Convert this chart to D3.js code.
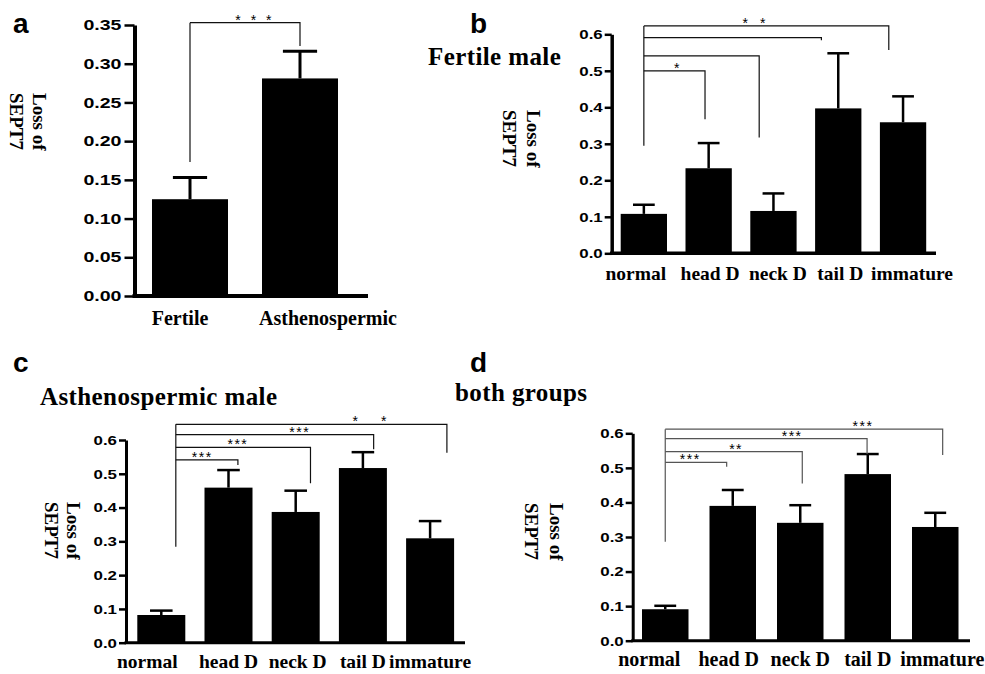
<!DOCTYPE html>
<html>
<head>
<meta charset="utf-8">
<script src="https://cdn.jsdelivr.net/npm/d3@7"></script>
<style>
  body { margin: 0; background: #fff; }
  svg { display: block; }
  .serif { font-family: "Liberation Serif", "Times New Roman", serif; font-weight: bold; }
  .sans { font-family: "Liberation Sans", Arial, sans-serif; font-weight: bold; }
  .stars { font-family: "Liberation Sans", Arial, sans-serif; white-space: pre; }
</style>
</head>
<body>
<div id="chart"></div>
<script>
// a: fertile vs asthenospermic
const catsA = ["Fertile", "Asthenospermic"];
const meansA = [0.125, 0.281];
const semsA = [0.028, 0.035];
const ticksA = [0, 0.05, 0.10, 0.15, 0.20, 0.25, 0.30, 0.35];

// b, c, d share the defect categories
const defects = ["normal", "head D", "neck D", "tail D", "immature"];
const ticksBCD = [0, 0.1, 0.2, 0.3, 0.4, 0.5, 0.6];

const meansB = [0.108, 0.233, 0.116, 0.397, 0.359];
const semsB = [0.025, 0.069, 0.048, 0.151, 0.071];

const meansC = [0.082, 0.459, 0.387, 0.517, 0.309];
const semsC = [0.013, 0.052, 0.063, 0.047, 0.051];

const meansD = [0.091, 0.390, 0.341, 0.482, 0.329];
const semsD = [0.010, 0.046, 0.051, 0.058, 0.041];

// significance brackets: x in bar-index units, y in data units
const bracketsA = [{to: 1, y: 0.353, drop: 0.323, label: "* * *", lx: 0.59}];
const bracketsB = [
  {to: 3.78, y: 0.623, drop: 0.557, label: "* *", lx: 1.73},
  {to: 2.74, y: 0.591, drop: 0.584, label: "", lx: 0},
  {to: 1.78, y: 0.541, drop: 0.317, label: "", lx: 0},
  {to: 0.944, y: 0.500, drop: 0.367, label: "*", lx: 0.54}
];
const bracketsC = [
  {to: 4.25, y: 0.6465, drop: 0.5625, label: "*    *", lx: 3.11},
  {to: 3.16, y: 0.616, drop: 0.5725, label: "***", lx: 2.06},
  {to: 2.22, y: 0.578, drop: 0.472, label: "***", lx: 1.14},
  {to: 1.14, y: 0.541, drop: 0.526, label: "***", lx: 0.61}
];
const bracketsD = [
  {to: 4.11, y: 0.612, drop: 0.537, label: "***", lx: 2.93},
  {to: 2.99, y: 0.5845, drop: 0.540, label: "***", lx: 1.88},
  {to: 2.03, y: 0.547, drop: 0.455, label: "**", lx: 1.05},
  {to: 0.91, y: 0.516, drop: 0.503, label: "***", lx: 0.37}
];

const svg = d3.select("#chart").append("svg")
    .attr("width", 985)
    .attr("height", 674)
    .attr("viewBox", [0, 0, 985, 674]);

function barPanel({
  letter, letterX, letterY,
  title, titleX, titleY,
  cats, means, sems, ticks, yMax, fmt,
  brackets, leftX = 0, leftBottom,
  axisX, yTop, yBottom, axisEnd,
  barLeft, step, barWidth,
  tickLen = 7, tickGap = 2, tickFont = 13.5, tickScale = 1.25,
  labelBase, labelFont = 19, labelDx = [],
  ylabX1, ylabX2, ylabY,
  axisW = 3.5, errW = 2.5, capFrac = 0.47, starFont = 14, starSpacing = 1.5,
  bracketColor = "#111"
}) {
  const g = svg.append("g");

  const y = d3.scaleLinear().domain([0, yMax]).range([yBottom, yTop]);
  const x = d3.scaleBand()
      .domain(cats)
      .range([barLeft, barLeft + (cats.length - 1) * step + barWidth])
      .paddingInner((step - barWidth) / step)
      .paddingOuter(0);
  const bw = x.bandwidth();
  const xi = d3.scaleLinear().domain([0, 1]).range([x(cats[0]) + bw / 2, x(cats[1]) + bw / 2]);

  // panel letter + title
  g.append("text").attr("class", "sans")
      .attr("x", letterX).attr("y", letterY)
      .attr("font-size", 28)
      .text(letter);
  if (title) {
    g.append("text").attr("class", "serif")
        .attr("x", titleX).attr("y", titleY)
        .attr("font-size", 25)
        .attr("letter-spacing", 0.4)
        .text(title);
  }

  // y label, rotated clockwise
  [["Loss of", ylabX1], ["SEPT7", ylabX2]].forEach(([t, lx]) => {
    g.append("text").attr("class", "serif")
        .attr("transform", `translate(${lx},${ylabY}) rotate(90)`)
        .attr("font-size", 19)
        .text(t);
  });

  // error bars
  const err = g.append("g")
      .attr("stroke", "#000")
      .attr("stroke-width", errW);
  err.selectAll("line.v")
    .data(cats)
    .join("line")
      .attr("class", "v")
      .attr("x1", c => x(c) + bw / 2)
      .attr("x2", c => x(c) + bw / 2)
      .attr("y1", (c, i) => y(means[i]))
      .attr("y2", (c, i) => y(means[i] + sems[i]));
  err.selectAll("line.cap")
    .data(cats)
    .join("line")
      .attr("class", "cap")
      .attr("x1", c => x(c) + bw / 2 - bw * capFrac / 2)
      .attr("x2", c => x(c) + bw / 2 + bw * capFrac / 2)
      .attr("y1", (c, i) => y(means[i] + sems[i]))
      .attr("y2", (c, i) => y(means[i] + sems[i]));

  // bars
  g.append("g")
      .attr("fill", "#000")
    .selectAll("rect")
    .data(cats)
    .join("rect")
      .attr("x", c => x(c))
      .attr("y", (c, i) => y(means[i]))
      .attr("width", bw)
      .attr("height", (c, i) => y(0) - y(means[i]));

  // y axis
  const yAxis = g.append("g")
      .attr("transform", `translate(${axisX},0)`)
      .call(d3.axisLeft(y)
        .tickValues(ticks)
        .tickSize(tickLen)
        .tickSizeOuter(0)
        .tickPadding(tickGap)
        .tickFormat(d3.format(fmt)));
  yAxis.select(".domain").attr("stroke", "#000").attr("stroke-width", axisW);
  yAxis.selectAll(".tick line").attr("stroke", "#000").attr("stroke-width", 2.5);
  yAxis.selectAll(".tick text")
      .attr("class", "sans")
      .attr("font-size", tickFont)
      .attr("fill", "#000")
      .attr("transform", `scale(${tickScale},1)`)
      .attr("x", -(tickLen + tickGap) / tickScale);

  // x axis line
  g.append("line")
      .attr("x1", axisX - axisW / 2).attr("x2", axisEnd)
      .attr("y1", y(0)).attr("y2", y(0))
      .attr("stroke", "#000")
      .attr("stroke-width", axisW);

  // category labels
  g.append("g")
    .selectAll("text")
    .data(cats)
    .join("text")
      .attr("class", "serif")
      .attr("font-size", labelFont)
      .attr("text-anchor", "middle")
      .attr("x", (c, i) => x(c) + bw / 2 + (labelDx[i] || 0))
      .attr("y", labelBase)
      .text(c => c);

  // significance brackets
  const br = g.append("g")
      .attr("fill", "none")
      .attr("stroke", bracketColor)
      .attr("stroke-width", 1.2);
  br.append("line")
      .attr("x1", xi(leftX)).attr("x2", xi(leftX))
      .attr("y1", y(d3.max(brackets, b => b.y)))
      .attr("y2", y(leftBottom));
  br.selectAll("path")
    .data(brackets)
    .join("path")
      .attr("d", b => `M${xi(leftX)},${y(b.y)}H${xi(b.to)}V${y(b.drop)}`);
  g.append("g")
    .selectAll("text")
    .data(brackets.filter(b => b.label))
    .join("text")
      .attr("class", "stars")
      .attr("font-size", starFont)
      .attr("letter-spacing", starSpacing)
      .attr("text-anchor", "middle")
      .attr("x", b => xi(b.lx))
      .attr("y", b => y(b.y) + 2)
      .text(b => b.label);
}

barPanel({
  letter: "a", letterX: 13, letterY: 33,
  cats: catsA, means: meansA, sems: semsA, ticks: ticksA, yMax: 0.35, fmt: ".2f",
  brackets: bracketsA, leftBottom: 0.173,
  axisX: 134.5, yTop: 25, yBottom: 296, axisEnd: 368,
  barLeft: 152, step: 110, barWidth: 76,
  tickLen: 10, tickGap: 3, tickFont: 14.5, tickScale: 1.35,
  labelBase: 325, labelFont: 20, labelDx: [-10, 28],
  ylabX1: 33, ylabX2: 10, ylabY: 93,
  axisW: 4, errW: 3, capFrac: 0.45, starSpacing: 3
});

barPanel({
  letter: "b", letterX: 470, letterY: 33,
  title: "Fertile male", titleX: 428, titleY: 65,
  cats: defects, means: meansB, sems: semsB, ticks: ticksBCD, yMax: 0.6, fmt: ".1f",
  brackets: bracketsB, leftBottom: 0.295,
  axisX: 611.7, yTop: 34.3, yBottom: 253.3, axisEnd: 936,
  barLeft: 620.7, step: 64.8, barWidth: 46.3,
  labelBase: 280, labelFont: 19.5, labelDx: [-8, 1.5, 4.5, 2, 9],
  ylabX1: 527, ylabX2: 503, ylabY: 110, starSpacing: 4
});

barPanel({
  letter: "c", letterX: 13, letterY: 372,
  title: "Asthenospermic male", titleX: 40, titleY: 405,
  cats: defects, means: meansC, sems: semsC, ticks: ticksBCD, yMax: 0.6, fmt: ".1f",
  brackets: bracketsC, leftX: 0.216, leftBottom: 0.284,
  axisX: 126, yTop: 440, yBottom: 642.7, axisEnd: 465,
  barLeft: 137.3, step: 67.2, barWidth: 48,
  labelBase: 668, labelFont: 19.5, labelDx: [-14, 0, 2, 0, 0],
  ylabX1: 67, ylabX2: 45, ylabY: 502, axisW: 3
});

barPanel({
  letter: "d", letterX: 470, letterY: 372,
  title: "both groups", titleX: 455, titleY: 401,
  cats: defects, means: meansD, sems: semsD, ticks: ticksBCD, yMax: 0.6, fmt: ".1f",
  brackets: bracketsD, leftBottom: 0.286,
  axisX: 632.7, yTop: 433.3, yBottom: 640.7, axisEnd: 970,
  barLeft: 642, step: 67.5, barWidth: 46.5,
  labelBase: 666, labelFont: 20, labelDx: [-16, -4, 0, 0, 7],
  ylabX1: 550, ylabX2: 525, ylabY: 503, axisW: 3, bracketColor: "#555"
});
</script>
</body>
</html>
